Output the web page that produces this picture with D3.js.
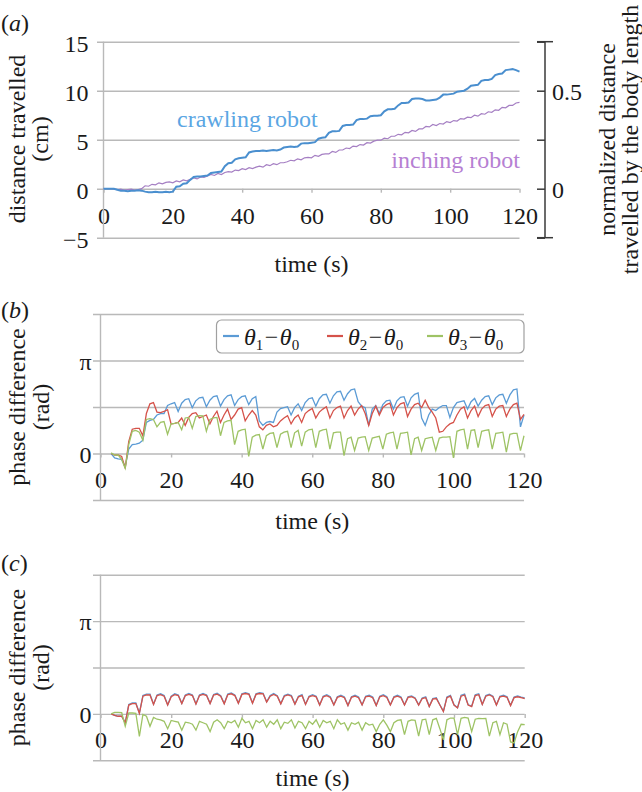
<!DOCTYPE html>
<html><head><meta charset="utf-8">
<script src="https://cdn.jsdelivr.net/npm/d3@7"></script>
<style>
body{margin:0;background:#fff}
svg{display:block}
</style>
</head><body>
<svg id="chart" width="642" height="792"></svg>
<script>
// ---------------- DATA ----------------
const timeA = [0,1,2,3,4,5,6,7,8,9,10,11,12,13,14,15,16,17,18,19,20,
21,22,23,24,25,26,27,28,29,30,31,32,33,34,35,36,37,38,39,40,
41,42,43,44,45,46,47,48,49,50,51,52,53,54,55,56,57,58,59,60,
61,62,63,64,65,66,67,68,69,70,71,72,73,74,75,76,77,78,79,80,
81,82,83,84,85,86,87,88,89,90,91,92,93,94,95,96,97,98,99,100,
101,102,103,104,105,106,107,108,109,110,111,112,113,114,115,116,117,118,119,120];

const crawling = [0,0,0,0,-0.1,-0.2,-0.2,-0.25,-0.2,-0.2,-0.15,-0.2,-0.3,-0.35,-0.35,-0.3,-0.35,-0.35,-0.3,-0.35,-0.3,
0.2,0.25,0.5,0.55,0.9,1.2,1.25,1.25,1.3,1.35,
1.6,1.65,1.7,1.75,2.3,2.6,2.65,3.0,3.1,3.15,
3.2,3.7,3.8,3.85,3.85,3.9,3.85,3.9,3.95,3.9,
4.0,4.2,4.25,4.3,4.25,4.3,4.6,4.65,4.65,4.7,
4.75,5.1,5.2,5.25,5.7,5.85,5.85,5.9,6.4,6.5,
6.5,6.55,7.0,7.1,7.1,7.15,7.4,7.45,7.45,7.5,
7.9,8.1,8.1,8.15,8.5,8.75,8.75,8.8,9.15,9.2,
9.2,9.15,9.0,9.0,9.05,9.1,9.3,9.6,9.6,9.65,
9.7,9.9,9.95,10.0,10.2,10.5,10.55,10.6,11.0,11.1,
11.1,11.2,11.6,11.7,11.75,12.1,12.15,12.2,12.1,11.95];

const inching = [0,0,0,-0.05,-0.1,-0.05,-0.15,-0.1,-0.05,-0.15,-0.1,
0,0.3,0.25,0.45,0.4,0.6,0.5,0.65,0.7,0.6,
0.8,0.7,0.9,0.8,0.95,1.1,1.0,1.2,1.15,1.3,
1.45,1.35,1.55,1.45,1.65,1.75,1.7,1.9,1.85,2.05,
1.95,2.15,2.05,2.2,2.3,2.2,2.45,2.35,2.55,2.45,
2.65,2.65,2.75,2.9,2.85,3.05,2.95,3.15,3.2,3.15,
3.4,3.3,3.5,3.55,3.55,3.8,3.7,3.95,3.95,4.15,
4.1,4.35,4.3,4.5,4.45,4.7,4.65,4.85,4.95,4.95,
5.15,5.1,5.35,5.35,5.55,5.5,5.75,5.7,5.95,5.85,
6.1,6.1,6.35,6.3,6.55,6.45,6.65,6.6,6.85,6.75,
6.95,6.9,7.15,7.1,7.3,7.25,7.5,7.4,7.65,7.6,
7.85,7.8,8.05,8.0,8.3,8.25,8.5,8.5,8.75,8.8];

const distTicks = [-5,0,5,10,15];
const timeTicks = [0,20,40,60,80,100,120];
const normTicks = [-0.25,0,0.25,0.5,0.75];
const normLabelled = [0,0.5];

const timeBC = [3,4,5,6,7,8,9,10,11,12,13,14,15,16,17,18,19,20,
21,22,23,24,25,26,27,28,29,30,31,32,33,34,35,36,37,38,39,40,
41,42,43,44,45,46,47,48,49,50,51,52,53,54,55,56,57,58,59,60,
61,62,63,64,65,66,67,68,69,70,71,72,73,74,75,76,77,78,79,80,
81,82,83,84,85,86,87,88,89,90,91,92,93,94,95,96,97,98,99,100,
101,102,103,104,105,106,107,108,109,110,111,112,113,114,115,116,117,118,119,120];

// panel (b)
const b_theta1 = [0.0,-0.15,-0.18,-0.2,-0.45,0.15,0.3,0.32,0.35,0.45,
1.05,1.12,1.15,1.3,1.35,1.35,1.62,1.68,1.72,1.42,
1.7,1.82,1.85,1.55,1.78,1.88,1.9,1.58,1.8,1.92,
1.95,1.6,1.82,1.95,1.98,1.62,1.82,1.92,1.95,1.65,
1.85,1.92,1.1,0.95,1.05,1.08,1.05,1.4,1.52,1.55,
1.58,1.3,1.55,1.68,1.45,1.72,1.85,1.88,1.6,1.85,
1.98,2.0,1.7,1.95,2.08,2.1,1.8,2.02,2.15,2.18,
1.75,1.6,1.55,0.95,1.5,1.62,1.35,1.65,1.78,1.8,
1.5,1.78,1.9,1.92,1.6,1.88,2.0,2.05,1.2,0.95,
1.3,1.5,1.45,1.55,1.62,1.62,1.22,1.55,1.72,1.75,
1.78,1.5,1.75,1.86,1.6,1.8,1.92,1.95,1.65,1.88,
1.98,2.0,1.7,1.98,2.15,2.18,0.9,1.3];

const b_theta2 = [0.0,-0.05,-0.05,-0.1,-0.5,0.4,0.82,0.85,0.85,0.6,
1.35,1.68,1.72,1.4,1.38,1.42,1.48,1.0,1.02,1.05,
1.2,0.95,1.22,1.35,1.38,1.2,1.25,1.3,1.0,1.25,
1.43,1.05,1.3,1.5,1.15,1.3,1.5,1.55,1.1,1.3,
1.45,1.3,0.9,0.8,0.95,1.0,0.9,0.95,1.1,1.2,
1.28,1.0,1.2,1.3,1.05,1.35,1.45,1.52,1.2,1.4,
1.5,1.58,1.2,1.45,1.55,1.6,1.2,1.45,1.6,1.3,
1.5,1.62,1.35,0.95,1.35,1.6,1.3,1.55,1.65,1.7,
1.3,1.55,1.68,1.72,1.25,1.5,1.65,1.7,1.55,1.8,
1.55,1.4,1.2,0.72,0.75,0.9,1.0,1.05,1.3,1.5,
1.58,1.2,1.45,1.6,1.25,1.5,1.62,1.65,1.25,1.5,
1.6,1.62,1.25,1.5,1.65,1.7,1.15,1.32];

const b_theta3 = [0.02,-0.05,-0.05,-0.2,-0.5,0.3,0.75,0.78,0.72,0.45,
1.15,1.18,1.15,0.9,1.05,1.08,0.65,1.0,1.02,1.05,
0.8,1.2,1.22,0.85,1.25,1.28,1.27,0.75,1.15,1.2,
1.22,0.6,1.05,1.1,1.12,0.3,0.75,0.8,0.82,-0.1,
0.55,0.62,0.64,0.15,0.6,0.68,0.7,0.2,0.65,0.72,
0.75,0.2,0.7,0.78,0.25,0.72,0.8,0.82,0.2,0.75,
0.8,0.82,0.15,0.7,0.72,0.72,-0.07,0.5,0.55,0.1,
0.52,0.55,0.57,0.1,0.52,0.55,0.58,0.15,0.65,0.7,
0.72,0.15,0.68,0.7,0.72,-0.05,0.5,0.55,0.1,0.5,
0.53,0.55,0.1,0.52,0.55,0.55,0.57,-0.15,0.75,0.8,
0.82,0.15,0.78,0.8,0.2,0.75,0.78,0.8,0.15,0.68,
0.7,0.72,0.05,0.65,0.68,0.68,0.1,0.6];

// panel (c)
const c_theta1 = [0.0,-0.05,-0.08,-0.08,-0.3,0.32,0.37,0.37,0.03,0.62,
0.67,0.67,0.33,0.64,0.68,0.62,0.31,0.6,0.68,0.64,
0.36,0.64,0.69,0.64,0.34,0.64,0.69,0.64,0.36,0.66,
0.7,0.62,0.35,0.67,0.71,0.64,0.37,0.68,0.72,0.68,
0.37,0.68,0.72,0.7,0.41,0.62,0.69,0.62,0.35,0.62,
0.67,0.62,0.34,0.6,0.65,0.33,0.6,0.65,0.6,0.31,
0.6,0.65,0.58,0.31,0.58,0.63,0.57,0.29,0.58,0.63,
0.57,0.31,0.6,0.63,0.57,0.29,0.6,0.65,0.58,0.31,
0.58,0.63,0.57,0.31,0.58,0.61,0.54,0.31,0.54,0.58,
0.26,0.52,0.55,0.31,0.09,0.57,0.63,0.31,0.21,0.63,
0.67,0.31,0.26,0.65,0.68,0.33,0.62,0.67,0.6,0.31,
0.6,0.63,0.58,0.29,0.57,0.61,0.57,0.54];

const c_theta2 = [0.0,-0.05,-0.08,-0.08,-0.3,0.3,0.35,0.35,0.02,0.6,
0.64,0.64,0.32,0.62,0.65,0.6,0.3,0.58,0.65,0.62,
0.35,0.62,0.66,0.62,0.33,0.62,0.66,0.62,0.35,0.64,
0.67,0.6,0.34,0.65,0.68,0.62,0.36,0.66,0.69,0.66,
0.36,0.66,0.69,0.68,0.4,0.6,0.66,0.6,0.34,0.6,
0.64,0.6,0.33,0.58,0.62,0.32,0.58,0.62,0.58,0.3,
0.58,0.62,0.56,0.3,0.56,0.6,0.55,0.28,0.56,0.6,
0.55,0.3,0.58,0.6,0.55,0.28,0.58,0.62,0.56,0.3,
0.56,0.6,0.55,0.3,0.56,0.58,0.52,0.3,0.52,0.55,
0.25,0.5,0.52,0.3,0.08,0.55,0.6,0.3,0.2,0.6,
0.64,0.3,0.25,0.62,0.65,0.32,0.6,0.64,0.58,0.3,
0.58,0.6,0.56,0.28,0.55,0.58,0.55,0.52];

const c_theta3 = [0.0,0.05,0.05,0.04,-0.42,0.03,0.03,0.02,-0.76,-0.02,
-0.08,-0.42,-0.12,-0.18,-0.2,-0.25,-0.5,-0.22,-0.25,-0.28,
-0.55,-0.28,-0.3,-0.35,-0.55,-0.25,-0.3,-0.35,-0.6,-0.28,
-0.2,-0.3,-0.5,-0.25,-0.3,-0.22,-0.45,-0.15,-0.3,-0.25,
-0.5,-0.22,-0.3,-0.2,-0.45,-0.25,-0.35,-0.2,-0.5,-0.28,
-0.32,-0.2,-0.48,-0.25,-0.3,-0.5,-0.25,-0.35,-0.2,-0.45,
-0.22,-0.3,-0.25,-0.5,-0.2,-0.35,-0.3,-0.55,-0.3,-0.35,
-0.28,-0.55,-0.3,-0.38,-0.35,-0.6,-0.35,-0.2,-0.38,-0.6,
-0.3,-0.22,-0.2,-0.7,-0.25,-0.2,-0.22,-0.75,-0.2,-0.18,
-0.7,-0.2,-0.15,-0.5,-0.88,-0.2,-0.14,-0.14,-0.7,-0.15,
-0.12,-0.14,-0.6,-0.18,-0.15,-0.16,-0.15,-0.75,-0.3,-0.25,
-0.7,-0.3,-0.35,-0.95,-0.98,-0.6,-0.35,-0.36];

const phaseTicks = [-Math.PI/2, 0, Math.PI/2, Math.PI, 3*Math.PI/2];
const phaseLabels = ["", "0", "", "π", ""];
const legendSubs = ["1","2","3"];
const seriesColors = ["#5b9bd5","#d5524a","#9ec365"];

// ---------------- DRAW ----------------
const FONT = '"Liberation Serif","Times New Roman",Times,serif';
const GRID = "#b9b9b9";
const TXT = "#1a1a1a";
const svg = d3.select("#chart").attr("font-family", FONT);

function styleAxis(g, fs) {
  g.select(".domain").remove();
  g.selectAll(".tick line").attr("stroke", GRID).attr("stroke-width", 1.4);
  g.selectAll(".tick text").attr("font-family", FONT).attr("font-size", fs).attr("fill", TXT);
}

function panelLabel(letter, x, y) {
  const t = svg.append("text").attr("x", x).attr("y", y).attr("font-size", 24).attr("fill", TXT);
  t.append("tspan").text("(");
  t.append("tspan").attr("font-style", "italic").text(letter);
  t.append("tspan").text(")");
}

function rotatedText(lines, xs, cy, fs) {
  lines.forEach((s, i) => {
    svg.append("text")
      .attr("transform", `translate(${xs[i]},${cy}) rotate(-90)`)
      .attr("text-anchor", "middle")
      .attr("font-size", fs).attr("fill", TXT).text(s);
  });
}

// ===== Panel (a) =====
(function(){
  const x = d3.scaleLinear().domain([0,120]).range([103.5,519.5]);
  const y = d3.scaleLinear().domain([-5,15]).range([237.7,41.7]);
  const yR = d3.scaleLinear().domain([-0.25,0.75]).range([237.7,41.7]);
  const gridLeft = 97;

  svg.append("g").attr("transform", `translate(${gridLeft},0)`)
    .call(d3.axisLeft(y).tickValues(distTicks).tickSize(-(x(120)-gridLeft)).tickPadding(8.5)
      .tickFormat(d => d < 0 ? "\u2212" + Math.abs(d) : String(d)))
    .call(g => styleAxis(g, 24))
    .call(g => g.selectAll(".tick text").attr("dy", 9.5));

  svg.append("g").attr("transform", `translate(0,${y(0)})`)
    .call(d3.axisBottom(x).tickValues(timeTicks).tickSize(4).tickSizeOuter(0))
    .call(g => styleAxis(g, 24))
    .call(g => g.selectAll(".tick text").attr("y", 35).attr("dy", 0));

  svg.append("line").attr("x1", x(0)).attr("x2", x(0)).attr("y1", y(15)).attr("y2", y(-5))
    .attr("stroke", GRID).attr("stroke-width", 1.4);

  // right axis
  const rx = 545;
  svg.append("g").attr("transform", `translate(${rx - 8},0)`)
    .call(d3.axisRight(yR).tickValues(normTicks).tickSize(8).tickSizeOuter(0)
      .tickFormat(d => normLabelled.includes(d) ? String(d) : ""))
    .call(g => g.select(".domain").remove())
    .call(g => g.selectAll(".tick line").attr("stroke", "#3a3a3a").attr("stroke-width", 1.5))
    .call(g => g.selectAll(".tick text").attr("x", 15).attr("dy", 9).attr("font-family", FONT)
      .attr("font-size", 24).attr("fill", TXT));
  svg.append("line").attr("x1", rx).attr("x2", rx).attr("y1", yR(0.75)).attr("y2", yR(-0.25))
    .attr("stroke", "#3a3a3a").attr("stroke-width", 1.5);
  [0.75, -0.25].forEach(v => svg.append("line").attr("x1", rx - 8).attr("x2", rx + 8)
    .attr("y1", yR(v)).attr("y2", yR(v)).attr("stroke", "#3a3a3a").attr("stroke-width", 1.5));

  const line = d3.line().x((d,i) => x(timeA[i])).y(d => y(d));
  svg.append("path").attr("d", line(inching)).attr("fill", "none")
    .attr("stroke", "#a57fc3").attr("stroke-width", 1.2);
  svg.append("path").attr("d", line(crawling)).attr("fill", "none")
    .attr("stroke", "#4a8fcf").attr("stroke-width", 2);

  svg.append("text").attr("x", 177).attr("y", 127).attr("font-size", 24)
    .attr("fill", "#5ba6e3").text("crawling robot");
  svg.append("text").attr("x", 520).attr("y", 168).attr("text-anchor", "end").attr("font-size", 24)
    .attr("fill", "#b680d3").text("inching robot");

  svg.append("text").attr("x", (x(0)+x(120))/2).attr("y", 272).attr("text-anchor", "middle")
    .attr("font-size", 24).attr("fill", TXT).text("time (s)");
  rotatedText(["distance travelled", "(cm)"], [25, 48], 139, 24);
  rotatedText(["normalized distance", "travelled by the body length"], [615, 638], 139.5, 24);
  panelLabel("a", 1, 31);
})();

// ===== Panels (b) and (c) =====
function phasePanel(top, bottom, xr, series, withLegend, letter, labelY, titleY) {
  const x = d3.scaleLinear().domain([0,120]).range(xr);
  const y = d3.scaleLinear().domain([-Math.PI/2, 3*Math.PI/2]).range([bottom, top]);
  const gridLeft = xr[0] - 7.5;

  svg.append("g").attr("transform", `translate(${gridLeft},0)`)
    .call(d3.axisLeft(y).tickValues(phaseTicks).tickSize(-(xr[1]-gridLeft)).tickPadding(1.5)
      .tickFormat((d,i) => phaseLabels[i]))
    .call(g => styleAxis(g, 24))
    .call(g => g.selectAll(".tick text").attr("dy", 8.5));

  svg.append("g").attr("transform", `translate(0,${y(0)})`)
    .call(d3.axisBottom(x).tickValues(timeTicks).tickSize(4).tickSizeOuter(0))
    .call(g => styleAxis(g, 24))
    .call(g => g.selectAll(".tick text").attr("y", 34).attr("dy", 0));

  svg.append("line").attr("x1", xr[0]).attr("x2", xr[0]).attr("y1", top).attr("y2", bottom)
    .attr("stroke", GRID).attr("stroke-width", 1.4);

  const line = d3.line().x((d,i) => x(timeBC[i])).y(d => y(d));
  series.forEach((s, i) => {
    svg.append("path").attr("d", line(s)).attr("fill", "none")
      .attr("stroke", seriesColors[i]).attr("stroke-width", 1.3);
  });

  if (withLegend) {
    const lg = svg.append("g");
    lg.append("rect").attr("x", 216.5).attr("y", 320).attr("width", 307.5).attr("height", 33)
      .attr("rx", 5).attr("fill", "#fff").attr("stroke", "#a0a0a0").attr("stroke-width", 1.2);
    const itemX = [223, 327, 427];
    legendSubs.forEach((sub, i) => {
      lg.append("line").attr("x1", itemX[i]).attr("x2", itemX[i] + 16).attr("y1", 336).attr("y2", 336)
        .attr("stroke", seriesColors[i]).attr("stroke-width", 2.2);
      const t = lg.append("text").attr("x", itemX[i] + 21).attr("y", 345)
        .attr("font-size", 24).attr("fill", TXT);
      t.append("tspan").attr("font-style", "italic").text("θ");
      t.append("tspan").attr("font-size", 15).attr("dy", 5).text(sub);
      t.append("tspan").attr("dy", -5).attr("dx", 1.5).text("\u2212");
      t.append("tspan").attr("dx", 1.5).attr("font-style", "italic").text("θ");
      t.append("tspan").attr("font-size", 15).attr("dy", 5).text("0");
    });
  }

  svg.append("text").attr("x", (xr[0]+xr[1])/2).attr("y", titleY).attr("text-anchor", "middle")
    .attr("font-size", 24).attr("fill", TXT).text("time (s)");
  rotatedText(["phase difference", "(rad)"], [25, 49], (top+bottom)/2, 24);
  panelLabel(letter, 1, labelY);
}

phasePanel(314, 500, [100.5, 524], [b_theta1, b_theta2, b_theta3], true, "b", 318, 529);
phasePanel(574.7, 760.3, [100.5, 524.7], [c_theta1, c_theta2, c_theta3], false, "c", 571, 786);
</script>
</body></html>
